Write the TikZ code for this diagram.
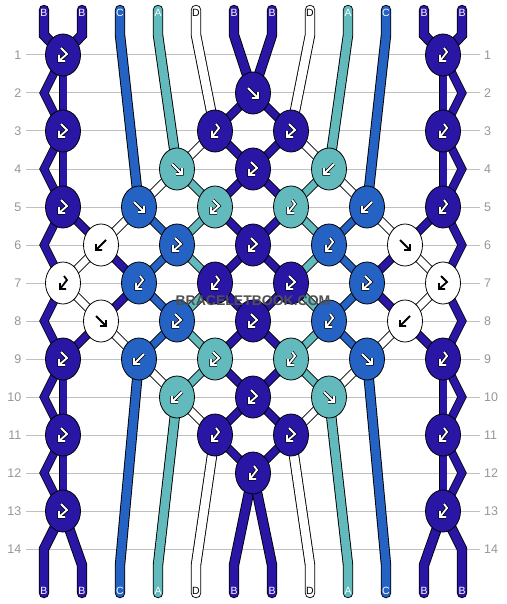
\documentclass[tikz,border=0pt]{standalone}
\usepackage{fontspec}
\setmainfont{Liberation Sans}
\usetikzlibrary{shapes.geometric}
\pgfdeclarelayer{bg}
\pgfsetlayers{bg,main}
\definecolor{cB}{RGB}{42,22,165}
\definecolor{cC}{RGB}{36,98,196}
\definecolor{cA}{RGB}{98,186,189}
\definecolor{cD}{RGB}{255,255,255}
\definecolor{gridc}{RGB}{192,192,192}
\definecolor{numc}{RGB}{150,150,150}
\definecolor{wmc}{RGB}{80,80,80}
\begin{document}
\begin{tikzpicture}[x=1pt,y=-1pt,
  knot/.style={ellipse, draw=black, line width=0.8pt, minimum width=35pt, minimum height=42pt, inner sep=0pt},
  lk/.style={draw=black, line width=0.8pt, double distance=7pt, double=#1},
  st/.style={draw=black, line width=0.9pt, double distance=8.6pt, double=#1, line cap=round},
  gridln/.style={draw=gridc, line width=1pt},
  wg/.style={draw=black, line width=0.7pt, double=white, double distance=1.8pt},
  kg/.style={draw=black, line width=1.8pt},
  lab/.style={inner sep=0pt, font=\fontsize{10.5}{10.5}\selectfont},
  num/.style={inner sep=0pt, text=numc, font=\fontsize{12.5}{12.5}\selectfont},
  wm/.style={inner sep=0pt, font=\fontsize{14}{14}\selectfont\bfseries},
  pics/gF/.style={code={\draw[#1] (-5,-5)--(5,5) (-1,5)--(5,5)--(5,-1);}},
  pics/gB/.style={code={\draw[#1] (5,-5)--(-5,5) (1,5)--(-5,5)--(-5,-1);}},
  pics/gFB/.style={code={\draw[#1] (-2,-7)--(4,-1)--(-4,6) (-4,0)--(-4,6)--(2,6);}},
  pics/gBF/.style={code={\draw[#1] (1,-7)--(4,-3)--(-3,6) (-3,0)--(-3,6)--(3,6);}}
]
\useasboundingbox (0,0) rectangle (506,604);

% coordinates
\foreach \i in {0,...,11} {
  \coordinate (t\i) at ({44+38*\i},10);
  \coordinate (tb\i) at ({44+38*\i},35);
  \coordinate (bb\i) at ({44+38*\i},565);
  \coordinate (b\i) at ({44+38*\i},593);
}
\foreach \r in {2,4,...,14} {
  \coordinate (eL\r) at (44,{55+38*(\r-1)});
  \coordinate (eR\r) at (462,{55+38*(\r-1)});
}

% row numbers
\foreach \r in {1,...,14} {
  \node[num, anchor=east] (nl\r) at (21.5,{55+38*(\r-1)}) {\r};
  \node[num, anchor=west] (nr\r) at (484,{55+38*(\r-1)}) {\r};
}

% knots
\foreach \r/\x/\c in {1/63/cB, 1/443/cB,
  2/253/cB,
  3/63/cB, 3/215/cB, 3/291/cB, 3/443/cB,
  4/177/cA, 4/253/cB, 4/329/cA,
  5/63/cB, 5/139/cC, 5/215/cA, 5/291/cA, 5/367/cC, 5/443/cB,
  6/101/cD, 6/177/cC, 6/253/cB, 6/329/cC, 6/405/cD,
  7/63/cD, 7/139/cC, 7/215/cB, 7/291/cB, 7/367/cC, 7/443/cD,
  8/101/cD, 8/177/cC, 8/253/cB, 8/329/cC, 8/405/cD,
  9/63/cB, 9/139/cC, 9/215/cA, 9/291/cA, 9/367/cC, 9/443/cB,
  10/177/cA, 10/253/cB, 10/329/cA,
  11/63/cB, 11/215/cB, 11/291/cB, 11/443/cB,
  12/253/cB,
  13/63/cB, 13/443/cB} {
  \node[knot, fill=\c] (k\r-\x) at (\x,{55+38*(\r-1)}) {};
}

% glyphs
\foreach \n in {2-253, 4-177, 5-139, 9-367, 10-329} {\pic at (k\n) {gF=wg};}
\foreach \n in {6-405, 8-101} {\pic at (k\n) {gF=kg};}
\foreach \n in {4-329, 5-367, 9-139, 10-177} {\pic at (k\n) {gB=wg};}
\foreach \n in {6-101, 8-405} {\pic at (k\n) {gB=kg};}
\foreach \n in {1-63, 3-63, 5-63, 9-63, 11-63, 13-63, 3-291, 4-253, 5-215, 6-177, 6-253, 7-291, 7-367, 8-177, 8-253, 9-215, 10-253, 11-291} {\pic at (k\n) {gFB=wg};}
\foreach \n in {7-443} {\pic at (k\n) {gFB=kg};}
\foreach \n in {1-443, 3-443, 5-443, 9-443, 11-443, 13-443, 3-215, 5-291, 6-329, 7-139, 7-215, 8-329, 9-291, 11-215, 12-253} {\pic at (k\n) {gBF=wg};}
\foreach \n in {7-63} {\pic at (k\n) {gBF=kg};}

\begin{pgfonlayer}{bg}
% grid lines
\foreach \r in {1,...,14} {
  \draw[gridln] (26,{55+38*(\r-1)}) -- (480,{55+38*(\r-1)});
}
% top strings
\foreach \i/\k/\c in {0/1-63/cB, 1/1-63/cB, 2/5-139/cC, 3/4-177/cA, 4/3-215/cD, 5/2-253/cB,
  6/2-253/cB, 7/3-291/cD, 8/4-329/cA, 9/5-367/cC, 10/1-443/cB, 11/1-443/cB} {
  \draw[st=\c] (t\i) -- (tb\i) -- (k\k.center);
}
% bottom strings
\draw[st=cB] (k13-63.center) -- (eL14) -- (b0);
\draw[st=cB] (k13-443.center) -- (eR14) -- (b11);
\foreach \i/\k/\c in {1/13-63/cB, 2/9-139/cC, 3/10-177/cA, 4/11-215/cD, 5/12-253/cB,
  6/12-253/cB, 7/11-291/cD, 8/10-329/cA, 9/9-367/cC, 10/13-443/cB} {
  \draw[st=\c] (k\k.center) -- (bb\i) -- (b\i);
}
% edge zigzags
\foreach \a/\e/\b in {1/2/3, 3/4/5, 5/6/7, 7/8/9, 9/10/11, 11/12/13} {
  \draw[lk=cB] (k\a-63.center) -- (eL\e) -- (k\b-63.center);
  \draw[lk=cB] (k\a-443.center) -- (eR\e) -- (k\b-443.center);
}
% dark links
\foreach \a/\b in {1-63/3-63, 3-63/5-63, 9-63/11-63, 11-63/13-63,
  1-443/3-443, 3-443/5-443, 9-443/11-443, 11-443/13-443,
  5-63/6-101, 6-101/7-139, 7-139/8-101, 8-101/9-63,
  5-443/6-405, 6-405/7-367, 7-367/8-405, 8-405/9-443,
  2-253/3-215, 2-253/3-291, 3-215/4-253, 3-291/4-253, 4-253/5-215, 4-253/5-291,
  5-215/6-253, 5-291/6-253, 6-253/7-215, 6-253/7-291, 7-215/8-253, 7-291/8-253,
  8-253/9-215, 8-253/9-291, 9-215/10-253, 9-291/10-253, 10-253/11-215, 10-253/11-291,
  11-215/12-253, 11-291/12-253} {
  \draw[lk=cB] (k\a.center) -- (k\b.center);
}
% white links
\foreach \a/\b in {3-215/4-177, 3-291/4-329, 4-177/5-139, 4-329/5-367, 5-139/6-101, 5-367/6-405,
  6-101/7-63, 6-405/7-443, 7-63/8-101, 7-443/8-405, 8-101/9-139, 8-405/9-367,
  9-139/10-177, 9-367/10-329, 10-177/11-215, 10-329/11-291} {
  \draw[lk=cD] (k\a.center) -- (k\b.center);
}
% teal links
\foreach \a/\b in {4-177/5-215, 4-329/5-291, 5-215/6-177, 5-291/6-329, 6-177/7-215, 6-329/7-291,
  7-215/8-177, 7-291/8-329, 8-177/9-215, 8-329/9-291, 9-215/10-177, 9-291/10-329} {
  \draw[lk=cA] (k\a.center) -- (k\b.center);
}
% medium links
\foreach \a/\b in {5-139/6-177, 5-367/6-329, 6-177/7-139, 6-329/7-367, 7-139/8-177, 7-367/8-329,
  8-177/9-139, 8-329/9-367} {
  \draw[lk=cC] (k\a.center) -- (k\b.center);
}
\end{pgfonlayer}

% string labels
\foreach \i/\l/\tc in {0/B/white, 1/B/white, 2/C/white, 3/A/white, 4/D/black, 5/B/white,
  6/B/white, 7/D/black, 8/A/white, 9/C/white, 10/B/white, 11/B/white} {
  \node[lab, text=\tc] (lt\i) at ({44+38*\i},13) {\l};
  \node[lab, text=\tc] (lb\i) at ({44+38*\i},591) {\l};
}

% watermark
\node[wm, text=wmc] (wmark) at (253,301) {BRACELETBOOK.COM};
\end{tikzpicture}
\end{document}
